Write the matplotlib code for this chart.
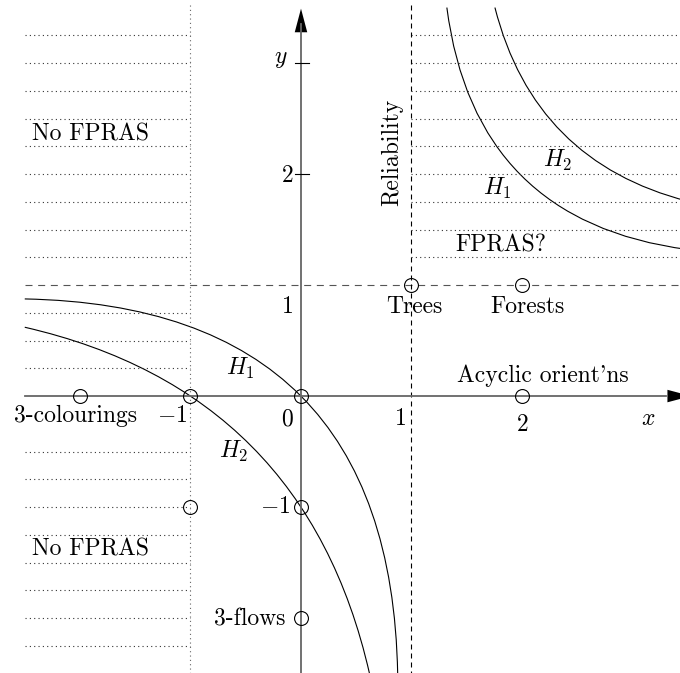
import numpy as np
import matplotlib
matplotlib.use("Agg")
import matplotlib.pyplot as plt
from matplotlib.patches import FancyArrowPatch, PathPatch
from matplotlib.path import Path

plt.rcParams['font.family'] = 'cmr10'
plt.rcParams['mathtext.fontset'] = 'cm'
plt.rcParams['axes.unicode_minus'] = False

# Curves as quadratic Beziers: start, control, end
h1_low_x = [-2.5, 0.8125, 0.875]
h1_low_y = [0.875, 0.8125, -2.5]
h2_low_x = [-2.5, 0.04, 0.62]
h2_low_y = [0.62, 0.04, -2.5]
h1_up_x = [1.32, 1.57, 3.5]
h1_up_y = [3.5, 1.57, 1.32]
h2_up_x = [1.755, 2.11, 3.5]
h2_up_y = [3.5, 2.11, 1.755]

# special points
pts_x = [-2, -1, 0, -1, 0, 0, 1, 2, 2]
pts_y = [0, 0, 0, -1, -1, -2, 1, 1, 0]

# dotted hatching
left_hatch = [3.25, 3.0, 2.75, 2.5, 2.25, 2.0, 1.75, 1.5, 1.25, 0.75, 0.5, 0.25,
              -0.5, -0.75, -1.0, -1.25, -1.5, -1.75, -2.0, -2.25]
right_hatch = [3.25, 3.0, 2.75, 2.5, 2.25, 2.0, 1.75, 1.5, 1.25]

FS = 17
grey = '#666666'
dotgrey = '#333333'

fig = plt.figure(figsize=(6.8, 6.73), dpi=100)
ax = fig.add_axes([0, 0, 1, 1])
ax.set_xlim(-2.724, 3.43)
ax.set_ylim(-2.495, 3.568)
ax.axis('off')

dot = (0, (1, 2.9))
for yv in left_hatch:
    ax.plot([-2.5, -1], [yv, yv], color=dotgrey, lw=0.8, ls=dot)
for yv in right_hatch:
    ax.plot([1, 3.5], [yv, yv], color=dotgrey, lw=0.8, ls=dot)
ax.plot([-1, -1], [3.52, -2.6], color='#666666', lw=0.8, ls=dot)

# dashed lines x=1, y=1
ax.plot([-2.5, 3.5], [1, 1], color='#555555', lw=0.8, ls=(0, (6.3, 5.1)))
ax.plot([1, 1], [3.52, -2.6], color='black', lw=0.8, ls=(0, (4.5, 3.6)))

# axes
ax.plot([-2.5, 3.3], [0, 0], color=grey, lw=1.3)
ax.plot([0, 0], [-2.6, 3.35], color=grey, lw=1.3)
ax.add_patch(FancyArrowPatch((3.2, 0), (3.53, 0), arrowstyle='-|>,head_length=17,head_width=4.5',
                             mutation_scale=1, color='black', lw=0, shrinkA=0, shrinkB=0))
ax.add_patch(FancyArrowPatch((0, 3.2), (0, 3.49), arrowstyle='-|>,head_length=17,head_width=4.5',
                             mutation_scale=1, color='black', lw=0, shrinkA=0, shrinkB=0))
for yv in [2, 3]:
    ax.plot([-0.055, 0.07], [yv, yv], color='black', lw=0.8)

# curves
codes = [Path.MOVETO, Path.CURVE3, Path.CURVE3]
for cx, cy in [(h1_low_x, h1_low_y), (h2_low_x, h2_low_y), (h1_up_x, h1_up_y), (h2_up_x, h2_up_y)]:
    p = Path(np.column_stack([cx, cy]), codes)
    ax.add_patch(PathPatch(p, fill=False, edgecolor='black', lw=0.8))

ax.plot(pts_x, pts_y, ls='none', marker='o', ms=10, mfc='none', mec='black', mew=0.8)

# labels
def lab(x, y, s, ha='center', va='baseline', **kw):
    ax.text(x, y, s, ha=ha, va=va, fontsize=FS, **kw)

lab(-2.434, 2.306, 'No FPRAS', ha='left')
lab(-2.434, -1.432, 'No FPRAS', ha='left')
lab(1.394, 1.30, 'FPRAS?', ha='left')
lab(0.824, 2.194, 'Reliability', va='center', rotation=90)
lab(1.023, 0.748, 'Trees')
lab(2.045, 0.748, 'Forests')
lab(2.19, 0.129, "Acyclic orient'ns")
lab(-2.045, -0.231, '3-colourings')
lab(-0.145, -2.063, '3-flows', ha='right')
lab(2.326, 2.063, r'$H_2$')
lab(1.774, 1.81, r'$H_1$')
lab(-0.552, 0.189, r'$H_1$')
lab(-0.606, -0.556, r'$H_2$')

lab(-1.167, -0.231, r'$-1$')
lab(-0.127, -0.261, r'$0$')
lab(0.896, -0.261, r'$1$')
lab(2.0, -0.312, r'$2$')
lab(3.14, -0.261, r'$x$')
lab(-0.181, 3.0, r'$y$')
lab(-0.072, 1.928, r'$2$', ha='right')
lab(-0.072, 0.748, r'$1$', ha='right')
lab(-0.10, -1.054, r'$-1$', ha='right')

fig.savefig('out.png', dpi=100, facecolor='white')
